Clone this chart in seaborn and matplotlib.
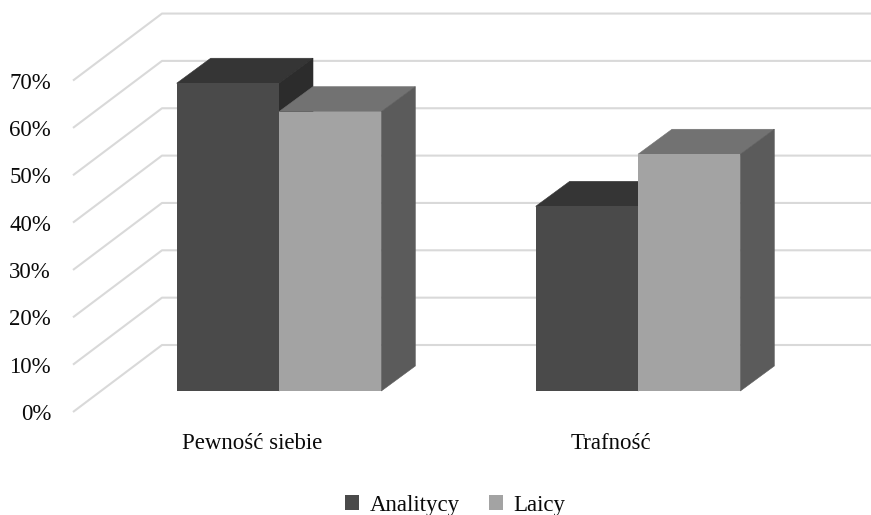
import matplotlib
matplotlib.use("Agg")
import matplotlib.pyplot as plt
import pandas as pd
import seaborn as sns
from matplotlib.patches import Polygon, Patch

# ---- data -------------------------------------------------------------
categories = ["Pewność siebie", "Trafność"]
series = ["Analitycy", "Laicy"]
analitycy = [65, 39]
laicy = [59, 50]
y_levels = [0, 10, 20, 30, 40, 50, 60, 70]
y_labels = ["0%", "10%", "20%", "30%", "40%", "50%", "60%", "70%"]

df = pd.DataFrame({
    "kategoria": categories * 2,
    "grupa": [series[0]] * len(categories) + [series[1]] * len(categories),
    "wartosc": analitycy + laicy,
})

# ---- style ------------------------------------------------------------
front_colors = ["#4a4a4a", "#a3a3a3"]
top_colors = ["#353535", "#727272"]
side_colors = ["#2c2c2c", "#5b5b5b"]
grid_color = "#d9d9d9"
text_color = "#0a0a0a"

sns.set_theme(style="white")
plt.rcParams["font.family"] = ["Liberation Serif", "DejaVu Serif"]
FS = 16.5

W, H, DPI = 871, 515, 100
fig = plt.figure(figsize=(W / DPI, H / DPI), dpi=DPI)
ax = fig.add_axes([0, 0, 1, 1])

sns.barplot(data=df, x="kategoria", y="wartosc", hue="grupa",
            palette=front_colors, width=0.57, saturation=1,
            linewidth=0, edgecolor="none", legend=False, ax=ax)

# pixel geometry of the plot box (oblique 3-D projection)
X0_PX, CAT_PX = 279, 359        # centre of first category, category spacing
Y0_PX, PX_PER_PCT = 391, 4.735  # baseline of bar fronts, pixels per percent
ax.set_xlim(-X0_PX / CAT_PX, (W - X0_PX) / CAT_PX)
ax.set_ylim(-(H - Y0_PX) / PX_PER_PCT, Y0_PX / PX_PER_PCT)
ax.axis("off")


def px_dx(p):
    return p / CAT_PX


def px_dy(p):
    return p / PX_PER_PCT


# bar depth vector
BDX, BDY = px_dx(34), px_dy(25)

# walls: side wall from front (x=73 px, 21 px below) to back (x=162 px, 46 px above)
wall_front_x = px_dx(73 - X0_PX)
wall_back_x = px_dx(162 - X0_PX)
front_drop = px_dy(21)
back_rise = px_dy(46)
right_x = ax.get_xlim()[1]
for v in y_levels:
    ax.plot([wall_front_x, wall_back_x, right_x],
            [v - front_drop, v + back_rise, v + back_rise],
            color=grid_color, lw=1.5, zorder=1, solid_capstyle="butt")

# y tick labels at the front edge of the side wall
for v, lab in zip(y_levels, y_labels):
    ax.text(px_dx(51 - X0_PX), v - front_drop - px_dy(8), lab,
            ha="right", va="baseline", fontsize=FS, color=text_color)

# 3-D faces for every bar
for i, cont in enumerate(ax.containers):
    z = 2 + i
    for bar in cont.patches:
        x, w, h = bar.get_x(), bar.get_width(), bar.get_height()
        top = Polygon([(x, h), (x + w, h), (x + w + BDX, h + BDY), (x + BDX, h + BDY)],
                      closed=True, facecolor=top_colors[i], edgecolor=top_colors[i],
                      lw=0.4, zorder=z)
        side = Polygon([(x + w, 0), (x + w, h), (x + w + BDX, h + BDY), (x + w + BDX, BDY)],
                       closed=True, facecolor=side_colors[i], edgecolor=side_colors[i],
                       lw=0.4, zorder=z)
        ax.add_patch(top)
        ax.add_patch(side)
        bar.set_zorder(z + 0.5)

# category labels on the front edge of the floor
for k, cat in enumerate(categories):
    ax.text(k - px_dx(27), -px_dy(449 - Y0_PX), cat,
            ha="center", va="baseline", fontsize=FS, color=text_color)

handles = [Patch(facecolor=c, edgecolor="none", label=s)
           for c, s in zip(front_colors, series)]
fig.legend(handles=handles, loc="center", ncol=2, frameon=False,
           bbox_to_anchor=(455.5 / W, 1 - 505 / H), fontsize=FS,
           handlelength=0.6, handleheight=0.6, handletextpad=0.45,
           columnspacing=1.3, labelcolor=text_color)

fig.savefig("out.png", dpi=DPI)
